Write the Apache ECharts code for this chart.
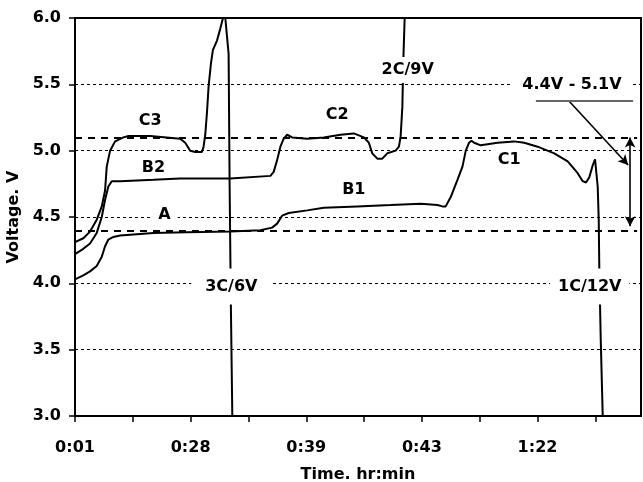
<!DOCTYPE html>
<html>
<head>
<meta charset="utf-8">
<script src="https://cdn.jsdelivr.net/npm/echarts@6/dist/echarts.min.js"></script>
<style>
  html, body { margin: 0; padding: 0; background: #fff; }
  #chart { width: 643px; height: 482px; }
</style>
</head>
<body>
<div id="chart"></div>
<script>
// Time axis: a tick every 10 samples, a clock label on every second tick
const timeLabels = ['0:01', '0:28', '0:39', '0:43', '1:22'];
const labelPositions = [0, 20, 40, 60, 80];
const tickPositions = [0, 10, 20, 30, 40, 50, 60, 70, 80, 90];

// Cell voltage during charge, [sample, volts]
const charge3C = [
  [0, 4.31], [1.44, 4.34], [2.6, 4.39], [3.76, 4.48], [4.63, 4.58], [5.2, 4.7], [5.49, 4.88],
  [6.07, 5.0], [6.93, 5.07], [8.37, 5.1], [9.24, 5.11], [13, 5.11], [18.2, 5.09], [19.06, 5.06],
  [19.93, 5.0], [20.8, 4.99], [21.96, 4.99], [22.24, 5.03], [22.53, 5.12], [22.83, 5.29],
  [23.1, 5.48], [23.52, 5.66], [23.86, 5.76], [24.56, 5.83], [25.13, 5.92], [25.6, 6.0],
  [26.0, 6.0], [26.57, 5.73], [26.74, 4.76], [26.95, 3.87], [27.21, 3.0]
];
const charge2C = [
  [0, 4.22], [1.44, 4.26], [2.6, 4.3], [3.76, 4.38], [4.63, 4.5], [5.2, 4.63], [5.77, 4.73],
  [6.36, 4.77], [7.8, 4.77], [13.57, 4.78], [18.2, 4.79], [26.86, 4.79], [33.8, 4.81],
  [34.37, 4.84], [34.96, 4.93], [35.53, 5.03], [36.1, 5.09], [36.69, 5.12], [37.56, 5.1],
  [40.16, 5.09], [43.03, 5.1], [45.93, 5.12], [48.23, 5.13], [49.97, 5.1], [50.83, 5.06],
  [51.42, 4.98], [52.29, 4.94], [53.15, 4.94], [54.02, 4.98], [55.46, 5.0], [56.03, 5.03],
  [56.33, 5.11], [56.62, 5.33], [56.79, 5.68], [57.02, 6.0]
];
const charge1C = [
  [0, 4.03], [1.44, 4.06], [2.6, 4.09], [3.76, 4.13], [4.63, 4.2], [5.2, 4.28], [5.77, 4.33],
  [6.64, 4.35], [7.8, 4.36], [13.57, 4.38], [19.36, 4.385], [26.86, 4.39], [32.06, 4.4],
  [34.09, 4.42], [34.96, 4.45], [35.82, 4.51], [36.97, 4.53], [40.16, 4.55], [43.03, 4.57],
  [48.82, 4.58], [54.59, 4.59], [59.79, 4.6], [62.69, 4.59], [63.55, 4.58], [64.12, 4.58],
  [64.99, 4.65], [66.15, 4.78], [67.02, 4.88], [67.59, 5.0], [68.16, 5.06], [68.58, 5.075],
  [69.03, 5.06], [70.19, 5.04], [73.08, 5.06], [75.96, 5.07], [77.7, 5.06], [80.02, 5.03],
  [82.89, 4.98], [85.22, 4.92], [86.95, 4.83], [87.82, 4.77], [88.39, 4.76], [88.96, 4.8],
  [89.55, 4.89], [89.95, 4.935], [90.24, 4.935], [90.41, 4.73], [90.59, 4.48], [90.69, 4.1],
  [90.94, 3.57], [91.28, 3.0]
];

// Operating window limits, volts
const windowLow = 4.4;
const windowHigh = 5.1;

// Text notes on the plot: [text, sample, volts]
const curveLabels = [
  ['C3', 13.0, 5.226], ['B2', 13.57, 4.867], ['A', 15.48, 4.515],
  ['C2', 45.36, 5.269], ['B1', 48.23, 4.703], ['C1', 75.1, 4.93],
  ['2C/9V', 57.54, 5.608], ['3C/6V', 27.04, 3.976], ['1C/12V', 89.03, 3.976],
  ['4.4V - 5.1V', 85.96, 5.495]
];

const FONT = { fontFamily: 'DejaVu Sans', fontWeight: 'bold', fontSize: 16, color: '#000' };

// white boxes behind the notes that sit on grid or curve lines
const noteBoxes = {
  'A': { backgroundColor: '#fff', padding: [3, 7] },
  'C1': { backgroundColor: '#fff', padding: [3, 7] },
  '2C/9V': { backgroundColor: '#fff', padding: [5, 6] },
  '3C/6V': { backgroundColor: '#fff', padding: [10, 14] },
  '1C/12V': { backgroundColor: '#fff', padding: [10, 8] },
  '4.4V - 5.1V': { backgroundColor: '#fff', padding: [4, 10] }
};

const curve = (name, data) => ({
  name, type: 'line', data, showSymbol: false, symbol: 'none', smooth: false,
  lineStyle: { color: '#000', width: 2 }, z: 3, silent: true
});

const xMax = 97.9;
const xRight = 96.01;

const chart = echarts.init(document.getElementById('chart'), null, { renderer: 'canvas' });
chart.setOption({
  animation: false,
  backgroundColor: '#fff',
  grid: {
    left: 75, right: 2, top: 18, bottom: 66, show: true,
    borderColor: '#000', borderWidth: 2, containLabel: false, outerBoundsMode: 'none'
  },
  xAxis: {
    type: 'value', min: 0, max: xMax,
    axisLine: { show: true, lineStyle: { color: '#000', width: 2 } },
    axisTick: { show: true, customValues: tickPositions, length: 6, lineStyle: { color: '#000', width: 1.5 } },
    axisLabel: {
      show: true, customValues: labelPositions, margin: 24,
      formatter: v => timeLabels[labelPositions.indexOf(v)] || '', ...FONT
    },
    splitLine: { show: false },
    name: 'Time. hr:min', nameLocation: 'middle', nameGap: 51, nameTextStyle: FONT
  },
  yAxis: {
    type: 'value', min: 3, max: 6, interval: 0.5,
    axisLine: { show: true, lineStyle: { color: '#000', width: 2 } },
    axisTick: { show: true, length: 6, lineStyle: { color: '#000', width: 1.5 } },
    axisLabel: { formatter: v => v.toFixed(1), margin: 14, ...FONT },
    splitLine: { show: true, lineStyle: { color: '#000', width: 1, type: [3, 3] } },
    name: 'Voltage. V', nameLocation: 'middle', nameRotate: 90, nameGap: 39, nameTextStyle: FONT
  },
  series: [
    {
      type: 'line', data: [], silent: true, z: 2,
      markLine: {
        silent: true, animation: false, label: { show: false }, emphasis: { disabled: true },
        lineStyle: { color: '#000', width: 2, type: [7, 6] },
        data: [
          [{ coord: [0, windowHigh], symbol: 'none' }, { coord: [97.23, windowHigh], symbol: 'none' }],
          [{ coord: [0, windowLow], symbol: 'none' }, { coord: [97.23, windowLow], symbol: 'none' }]
        ]
      }
    },
    curve('3C/6V', charge3C),
    curve('2C/9V', charge2C),
    curve('1C/12V', charge1C),
    {
      type: 'scatter', z: 10, silent: true, symbolSize: 0,
      itemStyle: { color: '#000', opacity: 1 },
      data: curveLabels.map(([t, x, y]) => ({
        value: [x, y],
        label: Object.assign({ formatter: t }, noteBoxes[t] || {})
      })),
      label: {
        show: true, position: 'inside', opacity: 1,
        textBorderWidth: 0, textBorderColor: 'transparent', ...FONT
      }
    },
    // range bracket, pointer and underline of the window note
    {
      type: 'line', data: [], silent: true, z: 11,
      markLine: {
        silent: true, animation: false, label: { show: false }, emphasis: { disabled: true },
        symbolSize: [8, 10],
        lineStyle: { color: '#000', width: 1.6, type: 'solid' },
        data: [
          [{ coord: [xRight, windowHigh], symbol: 'arrow' }, { coord: [xRight, 4.43], symbol: 'arrow' }],
          [{ coord: [85.44, 5.374], symbol: 'none' }, { coord: [95.67, 4.892], symbol: 'arrow' }],
          [{ coord: [79.72, 5.374], symbol: 'none', lineStyle: { color: '#666', width: 2 } },
           { coord: [96.53, 5.374], symbol: 'none' }]
        ]
      }
    }
  ]
});
</script>
</body>
</html>
